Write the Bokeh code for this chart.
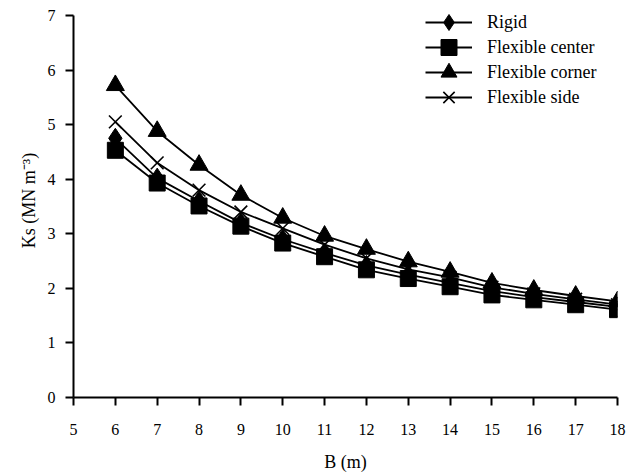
from bokeh.plotting import figure
from bokeh.embed import file_html
from bokeh.resources import INLINE
from bokeh.models import Legend, LegendItem, FixedTicker, Range1d

B = [6, 7, 8, 9, 10, 11, 12, 13, 14, 15, 16, 17, 18]
rigid = [4.75, 4.02, 3.6, 3.2, 2.9, 2.65, 2.42, 2.25, 2.1, 1.95, 1.84, 1.75, 1.66]
flex_center = [4.53, 3.93, 3.51, 3.14, 2.83, 2.58, 2.34, 2.18, 2.03, 1.88, 1.79, 1.70, 1.61]
flex_corner = [5.72, 4.88, 4.26, 3.71, 3.29, 2.96, 2.72, 2.49, 2.30, 2.10, 1.97, 1.86, 1.76]
flex_side = [5.05, 4.3, 3.8, 3.4, 3.1, 2.8, 2.55, 2.35, 2.2, 2.02, 1.9, 1.8, 1.7]
x_ticks = list(range(5, 19))
y_ticks = list(range(0, 8))

FONT = "'Liberation Serif', 'Times New Roman', serif"

p = figure(width=627, height=474, output_backend="svg", toolbar_location=None,
           x_range=Range1d(5, 18), y_range=Range1d(0, 7.22),
           min_border_left=73, min_border_right=10, min_border_top=3, min_border_bottom=76)
p.outline_line_color = None
p.grid.grid_line_color = None
p.background_fill_color = "white"
p.border_fill_color = "white"

for ax in (p.xaxis[0], p.yaxis[0]):
    ax.axis_line_width = 2
    ax.axis_line_color = "black"
    ax.major_tick_line_width = 2
    ax.major_tick_in = 0
    ax.major_tick_out = 8
    ax.minor_tick_line_color = None
    ax.major_label_text_font = FONT
    ax.major_label_text_font_size = "16px"
    ax.major_label_text_color = "black"
    ax.axis_label_text_font = FONT
    ax.axis_label_text_font_size = "18px"
    ax.axis_label_text_font_style = "normal"
    ax.axis_label_text_color = "black"

p.yaxis.bounds = (0, 7)
p.xaxis.ticker = FixedTicker(ticks=x_ticks)
p.yaxis.ticker = FixedTicker(ticks=y_ticks)
p.xaxis.axis_label = "B (m)"
p.yaxis.axis_label = "Ks (MN m\u207b\u00b3)"
p.xaxis.major_label_standoff = 18
p.yaxis.major_label_standoff = 10
p.xaxis.axis_label_standoff = 14
p.yaxis.axis_label_standoff = 6

series = [
    ("Rigid", rigid, "diamond", 20),
    ("Flexible center", flex_center, "square", 16),
    ("Flexible corner", flex_corner, "triangle", 18),
    ("Flexible side", flex_side, "x", 18),
]

ROW = 25
for i, (name, ys, marker, size) in enumerate(series):
    ln = p.line(B, ys, line_color="black", line_width=1.8)
    if marker == "x":
        sc = p.scatter(B, ys, marker=marker, size=size, line_color="black", line_width=1.6)
    else:
        sc = p.scatter(B, ys, marker=marker, size=size, fill_color="black", line_color="black")
    leg = Legend(items=[LegendItem(label=name, renderers=[ln, sc])],
                 location=(352, 355 - ROW * i))
    leg.border_line_color = None
    leg.background_fill_alpha = 0
    leg.padding = 0
    leg.margin = 0
    leg.spacing = 0
    leg.glyph_width = 47
    leg.glyph_height = 40
    leg.label_height = 40
    leg.label_standoff = 15
    leg.label_text_font = FONT
    leg.label_text_font_size = "18px"
    leg.label_text_color = "black"
    p.add_layout(leg, "center")

open("out.html", "w").write(file_html(p, INLINE))
